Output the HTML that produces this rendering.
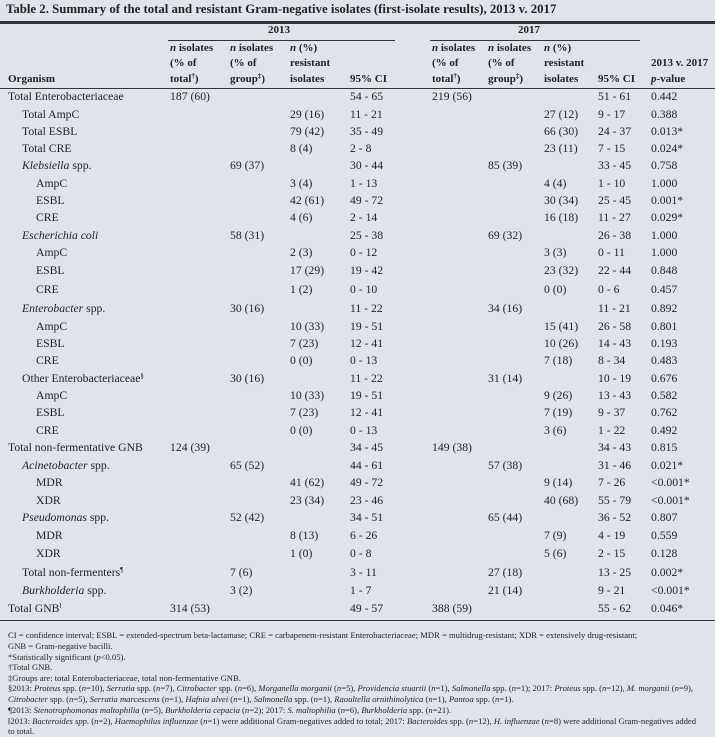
<!DOCTYPE html>
<html><head><meta charset="utf-8"><style>
body{margin:0;width:715px;height:731px;background:#dfe4eb;position:relative;overflow:hidden;font-family:"Liberation Serif",serif;color:#222;}
.t{position:absolute;white-space:nowrap;font-size:11.7px;line-height:16px;}
.h{position:absolute;white-space:nowrap;font-size:11px;line-height:15px;font-weight:bold;}
.ln{position:absolute;background:#333;height:1px;}
.fn{position:absolute;left:8px;white-space:nowrap;font-size:8.6px;line-height:10.6px;}
i{font-style:italic;}
sup{font-size:7px;line-height:0;vertical-align:0;position:relative;top:-4px;}
</style></head><body>
<div class="h" style="left:6px;top:2px;font-size:12.8px;">Table 2. Summary of the total and resistant Gram-negative isolates (first-isolate results), 2013 v. 2017</div>
<div class="ln" style="left:0;top:21px;width:715px;height:3px;"></div>
<div class="h" style="left:268px;top:23px;">2013</div>
<div class="ln" style="left:168px;top:40px;width:227px;"></div>
<div class="h" style="left:518px;top:23px;">2017</div>
<div class="ln" style="left:430px;top:40px;width:210px;"></div>
<div id="hdr"></div>
<div class="ln" style="left:0;top:88px;width:715px;"></div>
<div id="rows"></div>
<div class="ln" style="left:0;top:620px;width:715px;"></div>
<div>
<div class="fn" style="top:630px">CI = confidence interval; ESBL = extended-spectrum beta-lactamase; CRE = carbapenem-resistant Enterobacteriaceae; MDR = multidrug-resistant; XDR = extensively drug-resistant;</div>
<div class="fn" style="top:641px">GNB = Gram-negative bacilli.</div>
<div class="fn" style="top:652px">*Statistically significant (<i>p</i>&lt;0.05).</div>
<div class="fn" style="top:662px">†Total GNB.</div>
<div class="fn" style="top:673px">‡Groups are: total Enterobacteriaceae, total non-fermentative GNB.</div>
<div class="fn" style="top:683px">§2013: <i>Proteus</i> spp. (<i>n</i>=10), <i>Serratia</i> spp. (<i>n</i>=7), <i>Citrobacter</i> spp. (<i>n</i>=6), <i>Morganella morganii</i> (<i>n</i>=5), <i>Providencia stuartii</i> (<i>n</i>=1), <i>Salmonella</i> spp. (<i>n</i>=1); 2017: <i>Proteus</i> spp. (<i>n</i>=12), <i>M. morganii</i> (<i>n</i>=9),</div>
<div class="fn" style="top:694px"><i>Citrobacter</i> spp. (<i>n</i>=5), <i>Serratia marcescens</i> (<i>n</i>=1), <i>Hafnia alvei</i> (<i>n</i>=1), <i>Salmonella</i> spp. (<i>n</i>=1), <i>Raoultella ornithinolytica</i> (<i>n</i>=1), <i>Pantoa</i> spp. (<i>n</i>=1).</div>
<div class="fn" style="top:705px">¶2013: <i>Stenotrophomonas maltophilia</i> (<i>n</i>=5), <i>Burkholderia cepacia</i> (<i>n</i>=2); 2017: <i>S. maltophilia</i> (<i>n</i>=6), <i>Burkholderia</i> spp. (<i>n</i>=21).</div>
<div class="fn" style="top:716px">‖2013: <i>Bacteroides spp.</i> (<i>n</i>=2), <i>Haemophilus influenzae</i> (<i>n</i>=1) were additional Gram-negatives added to total; 2017: <i>Bacteroides</i> spp. (<i>n</i>=12), <i>H. influenzae</i> (<i>n</i>=8) were additional Gram-negatives added</div>
<div class="fn" style="top:726px">to total.</div>
</div>
<script>
const hdrX=[170,230,290,350,432,488,544,598,651];
const hdrLines=[
["<i>n</i> isolates","<i>n</i> isolates","<i>n</i> (%)","","<i>n</i> isolates","<i>n</i> isolates","<i>n</i> (%)","",""],
["(% of","(% of","resistant","","(% of","(% of","resistant","","2013 v. 2017"],
["total<sup>†</sup>)","group<sup>‡</sup>)","isolates","95% CI","total<sup>†</sup>)","group<sup>‡</sup>)","isolates","95% CI","<i>p</i>-value"]];
const hdrY=[41,56,72];
const H=document.getElementById('hdr');
const org=document.createElement('div');org.className='h';org.style.left='8px';org.style.top='72px';org.textContent='Organism';


H.appendChild(org);
hdrLines.forEach((ln,r)=>ln.forEach((s,c)=>{if(!s)return;const d=document.createElement('div');d.className='h';d.style.left=hdrX[c]+'px';d.style.top=hdrY[r]+'px';d.innerHTML=s;


H.appendChild(d);}));
const rows=[
["Total Enterobacteriaceae",0,"187 (60)","","","54 - 65","219 (56)","","","51 - 61","0.442"],
["Total AmpC",1,"","","29 (16)","11 - 21","","","27 (12)","9 - 17","0.388"],
["Total ESBL",1,"","","79 (42)","35 - 49","","","66 (30)","24 - 37","0.013*"],
["Total CRE",1,"","","8 (4)","2 - 8","","","23 (11)","7 - 15","0.024*"],
["<i>Klebsiella</i> spp.",1,"","69 (37)","","30 - 44","","85 (39)","","33 - 45","0.758"],
["AmpC",2,"","","3 (4)","1 - 13","","","4 (4)","1 - 10","1.000"],
["ESBL",2,"","","42 (61)","49 - 72","","","30 (34)","25 - 45","0.001*"],
["CRE",2,"","","4 (6)","2 - 14","","","16 (18)","11 - 27","0.029*"],
["<i>Escherichia coli</i>",1,"","58 (31)","","25 - 38","","69 (32)","","26 - 38","1.000"],
["AmpC",2,"","","2 (3)","0 - 12","","","3 (3)","0 - 11","1.000"],
["ESBL",2,"","","17 (29)","19 - 42","","","23 (32)","22 - 44","0.848"],
["CRE",2,"","","1 (2)","0 - 10","","","0 (0)","0 - 6","0.457"],
["<i>Enterobacter</i> spp.",1,"","30 (16)","","11 - 22","","34 (16)","","11 - 21","0.892"],
["AmpC",2,"","","10 (33)","19 - 51","","","15 (41)","26 - 58","0.801"],
["ESBL",2,"","","7 (23)","12 - 41","","","10 (26)","14 - 43","0.193"],
["CRE",2,"","","0 (0)","0 - 13","","","7 (18)","8 - 34","0.483"],
["Other Enterobacteriaceae<sup>§</sup>",1,"","30 (16)","","11 - 22","","31 (14)","","10 - 19","0.676"],
["AmpC",2,"","","10 (33)","19 - 51","","","9 (26)","13 - 43","0.582"],
["ESBL",2,"","","7 (23)","12 - 41","","","7 (19)","9 - 37","0.762"],
["CRE",2,"","","0 (0)","0 - 13","","","3 (6)","1 - 22","0.492"],
["Total non-fermentative GNB",0,"124 (39)","","","34 - 45","149 (38)","","","34 - 43","0.815"],
["<i>Acinetobacter</i> spp.",1,"","65 (52)","","44 - 61","","57 (38)","","31 - 46","0.021*"],
["MDR",2,"","","41 (62)","49 - 72","","","9 (14)","7 - 26","&lt;0.001*"],
["XDR",2,"","","23 (34)","23 - 46","","","40 (68)","55 - 79","&lt;0.001*"],
["<i>Pseudomonas</i> spp.",1,"","52 (42)","","34 - 51","","65 (44)","","36 - 52","0.807"],
["MDR",2,"","","8 (13)","6 - 26","","","7 (9)","4 - 19","0.559"],
["XDR",2,"","","1 (0)","0 - 8","","","5 (6)","2 - 15","0.128"],
["Total non-fermenters<sup>¶</sup>",1,"","7 (6)","","3 - 11","","27 (18)","","13 - 25","0.002*"],
["<i>Burkholderia</i> spp.",1,"","3 (2)","","1 - 7","","21 (14)","","9 - 21","&lt;0.001*"],
["Total GNB<sup>‖</sup>",0,"314 (53)","","","49 - 57","388 (59)","","","55 - 62","0.046*"]];
const rowY=[97,115,132,149,166,184,201,218,236,253,271,290,309,327,344,361,379,396,413,431,448,466,483,501,518,536,554,573,591,609];
const R=document.getElementById('rows');
rows.forEach((r,i)=>{
 const row=document.createElement('div');
 
 
 R.appendChild(row);
 const top=rowY[i]-8;
 const a=document.createElement('div');a.className='t';a.style.left=(8+r[1]*14)+'px';a.style.top=top+'px';a.innerHTML=r[0];
 
 
 row.appendChild(a);
 for(let c=0;c<9;c++){const s=r[c+2];if(!s)continue;
  const d=document.createElement('div');d.className='t';d.style.left=hdrX[c]+'px';d.style.top=top+'px';d.innerHTML=s;
  
  
  row.appendChild(d);}
});
</script>
</body></html>
